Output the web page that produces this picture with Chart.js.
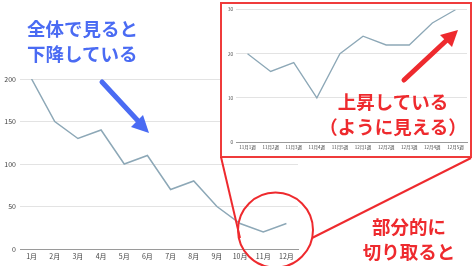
<!DOCTYPE html>
<html>
<head>
<meta charset="utf-8">
<script src="https://cdn.jsdelivr.net/npm/chart.js@4"></script>
<style>
  html, body { margin: 0; padding: 0; background: #fff; }
  #stage { position: relative; width: 474px; height: 266px; overflow: hidden; background: #fff; }
  #mainBox { position: absolute; left: 0; top: 0; width: 300px; height: 266px; }
  #insetBox { position: absolute; left: 220px; top: 2px; width: 252px; height: 156px; box-sizing: border-box;
              border: 2px solid #ef3b3b; background: #fff; }
  #overlay { position: absolute; left: 0; top: 0; }
  .note { position: absolute; font-family: "Noto Sans CJK JP", sans-serif; font-weight: 700;
          font-size: 18.5px; line-height: 25px; white-space: nowrap; }
  .blue { color: #4a6bf3; }
  .red { color: #ee2a2e; text-align: center; }
</style>
</head>
<body>
<div id="stage">
  <div id="mainBox"><canvas id="mainChart" width="300" height="266"></canvas></div>
  <div id="insetBox"><canvas id="insetChart" width="248" height="152"></canvas></div>
  <svg id="overlay" width="474" height="266">
    <g stroke="#ee2a2e" stroke-width="2" fill="none">
      <line x1="221" y1="157" x2="240" y2="238"/>
      <line x1="471" y1="158" x2="312" y2="238"/>
      <circle cx="275.5" cy="230" r="37.5"/>
    </g>
    <g stroke="#4a6bf3" stroke-width="5" stroke-linecap="round">
      <line x1="102" y1="82" x2="140" y2="123"/>
    </g>
    <polygon points="149,133 131,127 143,115" fill="#4a6bf3"/>
    <g stroke="#ee2a2e" stroke-width="5" stroke-linecap="round">
      <line x1="404" y1="80" x2="448" y2="39"/>
    </g>
    <polygon points="458,30 452,47 440,35" fill="#ee2a2e"/>
  </svg>
  <div class="note blue" style="left:27px; top:16px;">全体で見ると<br>下降している</div>
  <div class="note red" style="left:313px; top:89px; width:160px;">上昇している<br>（ように見える）</div>
  <div class="note red" style="left:329px; top:214px; width:160px;">部分的に<br>切り取ると</div>
</div>
<script>
const months = ['1月', '2月', '3月', '4月', '5月', '6月', '7月', '8月', '9月', '10月', '11月', '12月'];
const monthlyValues = [200, 150, 130, 140, 100, 110, 70, 80, 50, 30, 20, 30];
const monthlyTicks = [0, 50, 100, 150, 200];

const weeks = ['11月1週', '11月2週', '11月3週', '11月4週', '11月5週', '12月1週', '12月2週', '12月3週', '12月4週', '12月5週'];
const weeklyValues = [20, 16, 18, 10, 20, 24, 22, 22, 27, 30];
const weeklyTicks = [0, 10, 20, 30];

const lineColor = '#8da8b7';
const fontFamily = "'Noto Sans CJK JP', sans-serif";

function lineChart(id, labels, values, ticks, opts) {
    const ctx = document.getElementById(id).getContext('2d');
    return new Chart(ctx, {
        type: 'line',
        data: {
            labels: labels,
            datasets: [{
                data: values,
                borderColor: lineColor,
                borderWidth: opts.lineWidth,
                pointRadius: 0,
                tension: 0,
                fill: false
            }]
        },
        options: {
            responsive: false,
            animation: false,
            events: [],
            layout: { padding: opts.padding },
            plugins: { legend: { display: false }, tooltip: { enabled: false } },
            scales: {
                x: {
                    offset: true,
                    grid: { display: false, drawTicks: false, tickLength: 0 },
                    border: { display: true, color: '#9a9a9a', width: 1 },
                    ticks: { color: '#444', font: { family: fontFamily, size: opts.fontSize }, padding: opts.xPad, maxRotation: 0, autoSkip: false },
                    afterFit(scale) { scale.height = opts.xHeight; }
                },
                y: {
                    min: ticks[0],
                    max: ticks[ticks.length - 1],
                    afterBuildTicks(scale) { scale.ticks = ticks.map(v => ({ value: v })); },
                    grid: {
                        drawTicks: false,
                        color: c => c.tick && c.tick.value === 0 ? '#9a9a9a' : '#e3e3e3'
                    },
                    border: { display: false },
                    ticks: { color: '#444', font: { family: fontFamily, size: opts.fontSize }, padding: opts.yPad },
                    afterFit(scale) { scale.width = opts.yWidth; }
                }
            }
        }
    });
}

lineChart('mainChart', months, monthlyValues, monthlyTicks, {
    padding: { top: 79, right: 2, left: 0, bottom: 0 },
    fontSize: 7, xPad: 3, yPad: 4, xHeight: 17, yWidth: 20, lineWidth: 1.5
});

lineChart('insetChart', weeks, weeklyValues, weeklyTicks, {
    padding: { top: 4, right: 3, left: 0, bottom: 0 },
    fontSize: 4.5, xPad: 3, yPad: 3, xHeight: 14, yWidth: 14, lineWidth: 1.3
});
</script>
</body>
</html>
